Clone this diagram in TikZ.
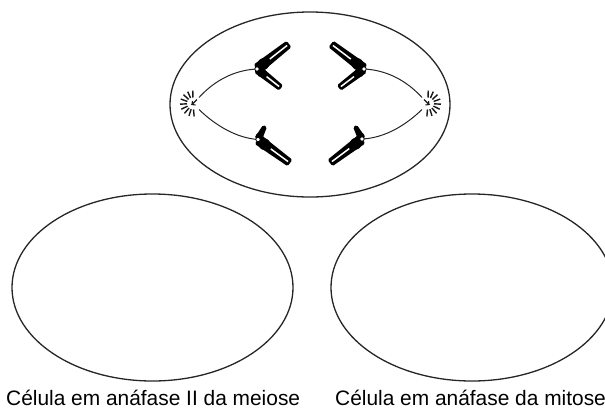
\documentclass[tikz,border=0pt]{standalone}
\usepackage{fontspec}
\setmainfont{Liberation Sans}
\usetikzlibrary{calc}
\tikzset{
  cellwall/.style={draw=black!85, line width=1.3pt},
  fiber/.style={draw=black!85, line width=1pt},
  ray/.style={draw=black!90, line width=1.4pt},
  cmere/.style={draw=black, fill=white, line width=0.8pt},
  caption/.style={anchor=base west, inner sep=0pt, font=\fontsize{20.9pt}{24pt}\selectfont}
}
% arm from centromere #1 to tip #2, base half-width #3, tip half-width #4
\newcommand{\chrarm}[4]{%
  \fill[black, rounded corners=1.5pt] ($(#1)!#3!90:(#2)$) -- ($(#2)!#4!-90:(#1)$) -- ($(#2)!#4!90:(#1)$) -- ($(#1)!#3!-90:(#2)$) -- cycle;
  \fill[black] ($(#1)!0.2!(#2)$) circle (#3*1.05);
}
\newcommand{\chrstripe}[2]{%
  \draw[white, line width=1.5pt] ($(#1)!0.4!(#2)$) -- ($(#2)!2.4pt!(#1)$);
}
\begin{document}
\begin{tikzpicture}[x=1pt,y=-1pt]
\useasboundingbox (0,0) rectangle (605,410);
\begin{scope}
\clip (0,0) rectangle (605,410);
% cells
\draw[cellwall] (310,104.5) ellipse [x radius=140, y radius=92.5];
\draw[cellwall] (152.5,287.5) ellipse [x radius=140.5, y radius=93.5];
\draw[cellwall] (472,287.5) ellipse [x radius=141, y radius=93.5];

% key points
\coordinate (PL) at (193,103.5);
\coordinate (PR) at (428,103.5);
\coordinate (CUL) at (257,69);
\coordinate (CLL) at (258,139.5);
\coordinate (CUR) at (364,69);
\coordinate (CLR) at (362,139);
\coordinate (ULlong) at (289,44);
\coordinate (ULshort) at (281,88);
\coordinate (LLshort) at (265,126);
\coordinate (LLlong) at (290,163);
\coordinate (URlong) at (331,44);
\coordinate (URshort) at (339,88);
\coordinate (LRshort) at (355,126);
\coordinate (LRlong) at (330,163);

% spindle fibres
\draw[fiber] (PL) ++(6,-6) .. controls (215,80) and (235,70) .. (CUL);
\draw[fiber] (PL) ++(6,6) .. controls (215,125) and (236,138) .. (CLL);
\draw[fiber] (PR) ++(-6,-6) .. controls (406,80) and (386,70) .. (CUR);
\draw[fiber] (PR) ++(-6,6) .. controls (406,125) and (385,138) .. (CLR);

% centrosome rays
\foreach \a in {85,108,131,154,177,200,223,246,269}
  \draw[ray] (PL) ++(\a:6) -- ++(\a:7);
\foreach \a in {95,72,49,26,3,-20,-43,-66,-89}
  \draw[ray] (PR) ++(\a:6) -- ++(\a:7);
\draw[ray, line width=1.1pt] ($(PL)+(4,-4)$) -- ($(PL)+(-1,1)$) -- ($(PL)+(2.5,1.5)$);
\draw[ray, line width=1.1pt] ($(PL)+(-1,1)$) -- ($(PL)+(-0.5,-2.5)$);
\draw[ray, line width=1.1pt] ($(PR)+(-4,-4)$) -- ($(PR)+(1,1)$) -- ($(PR)+(-2.5,1.5)$);
\draw[ray, line width=1.1pt] ($(PR)+(1,1)$) -- ($(PR)+(0.5,-2.5)$);

% chromosomes
\chrarm{CUL}{ULlong}{5.5pt}{4pt}
\chrarm{CUL}{ULshort}{4.5pt}{3.3pt}
\chrstripe{CUL}{ULlong}
\chrstripe{CUL}{ULshort}
\chrarm{CLL}{LLlong}{5.5pt}{4pt}
\chrarm{CLL}{LLshort}{3.8pt}{2.2pt}
\chrstripe{CLL}{LLlong}
\chrarm{CUR}{URlong}{5.5pt}{4pt}
\chrarm{CUR}{URshort}{4.5pt}{3.3pt}
\chrstripe{CUR}{URlong}
\chrstripe{CUR}{URshort}
\chrarm{CLR}{LRlong}{5.5pt}{4pt}
\chrarm{CLR}{LRshort}{3.8pt}{2.2pt}
\chrstripe{CLR}{LRlong}
\foreach \c in {CUL,CLL,CUR,CLR}
  \draw[cmere] (\c) circle (2.2);

% captions
\node[caption] (capA) at (6,405) {Célula em anáfase II da meiose};
\node[caption] (capB) at (335,405) {Célula em anáfase da mitose};
\end{scope}
\end{tikzpicture}
\end{document}
